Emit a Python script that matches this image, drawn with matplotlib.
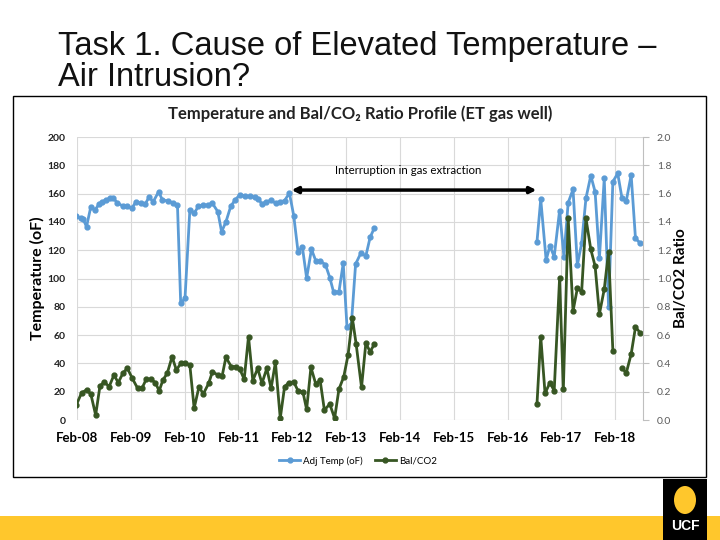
import numpy as np
import matplotlib
matplotlib.use("Agg")
import matplotlib.pyplot as plt
from matplotlib.patches import Rectangle, Ellipse

# decimal-year dates (Feb-08 = 2008.083)
temp_dates_a = [2008.07, 2008.15, 2008.20, 2008.26, 2008.34, 2008.42, 2008.49, 2008.55, 2008.62, 2008.69,
                2008.76, 2008.83, 2008.93, 2009.02, 2009.10, 2009.18, 2009.27, 2009.35, 2009.42, 2009.50,
                2009.60, 2009.67, 2009.77, 2009.86, 2009.95, 2010.01, 2010.09, 2010.18, 2010.26, 2010.34,
                2010.43, 2010.51, 2010.60, 2010.70, 2010.77, 2010.85, 2010.94, 2011.02, 2011.11, 2011.20,
                2011.29, 2011.39, 2011.45, 2011.52, 2011.60, 2011.69, 2011.78, 2011.86, 2011.94, 2012.03,
                2012.11, 2012.19, 2012.27, 2012.35, 2012.44, 2012.52, 2012.60, 2012.70, 2012.78, 2012.85,
                2012.95, 2013.03, 2013.10, 2013.18, 2013.26, 2013.36, 2013.45, 2013.53, 2013.61]
temp_vals_a = [144, 142.5, 141.8, 136.6, 150.7, 148.4, 152.6, 154.3, 155.5, 156.7,
               156.7, 153.6, 151.2, 151.2, 149.6, 154.3, 153.1, 152.6, 157.4, 154.3,
               161.3, 155.5, 154.8, 153.6, 151.9, 82.5, 86, 148.4, 146, 151.2,
               151.9, 151.9, 153.1, 147.2, 133, 140, 151, 155.5, 159.2, 158.3,
               158, 157.6, 156.5, 152.6, 154.3, 155.2, 153.1, 154.3, 155, 160.4,
               144.5, 119, 122.5, 100.3, 120.7, 112.5, 112.5, 109.7, 100.7, 90.5,
               90.5, 110.7, 65.8, 67, 110.2, 118.2, 115.9, 129.1, 135.9]

temp_dates_b = [2016.63, 2016.70, 2016.80, 2016.87, 2016.95, 2017.05, 2017.13, 2017.21, 2017.30, 2017.38,
                2017.46, 2017.54, 2017.63, 2017.71, 2017.79, 2017.88, 2017.96, 2018.04, 2018.13, 2018.21,
                2018.29, 2018.38, 2018.46, 2018.55]
temp_vals_b = [126, 156, 113, 123, 115.4, 148, 115.4, 153.6, 163, 109.5,
               124.9, 156.7, 172.7, 161.3, 114.3, 170.8, 80, 168.4, 174.3, 156.7,
               155, 173.1, 128.4, 124.9]

ratio_dates_a = [2008.07, 2008.17, 2008.26, 2008.34, 2008.43, 2008.51, 2008.59, 2008.68, 2008.77, 2008.85,
                 2008.94, 2009.02, 2009.11, 2009.21, 2009.29, 2009.37, 2009.46, 2009.54, 2009.61, 2009.68,
                 2009.76, 2009.85, 2009.93, 2010.02, 2010.09, 2010.18, 2010.26, 2010.35, 2010.43, 2010.53,
                 2010.60, 2010.70, 2010.78, 2010.85, 2010.95, 2011.04, 2011.11, 2011.19, 2011.27, 2011.35,
                 2011.44, 2011.52, 2011.61, 2011.69, 2011.77, 2011.86, 2011.94, 2012.02, 2012.11, 2012.19,
                 2012.28, 2012.35, 2012.43, 2012.52, 2012.60, 2012.68, 2012.78, 2012.87, 2012.95, 2013.04,
                 2013.12, 2013.20, 2013.27, 2013.37, 2013.45, 2013.53, 2013.61]
ratio_vals_a = [0.106, 0.193, 0.212, 0.184, 0.035, 0.24, 0.27, 0.235, 0.318, 0.264,
                0.334, 0.365, 0.295, 0.224, 0.224, 0.288, 0.288, 0.264, 0.205, 0.283,
                0.33, 0.447, 0.353, 0.405, 0.405, 0.389, 0.083, 0.235, 0.184, 0.259,
                0.341, 0.318, 0.311, 0.443, 0.377, 0.377, 0.358, 0.288, 0.589, 0.278,
                0.365, 0.259, 0.365, 0.224, 0.408, 0.012, 0.235, 0.264, 0.269, 0.207,
                0.20, 0.075, 0.372, 0.254, 0.283, 0.07, 0.113, 0.012, 0.217, 0.306,
                0.46, 0.719, 0.537, 0.231, 0.542, 0.483, 0.537]

ratio_dates_b = [2016.63, 2016.70, 2016.78, 2016.87, 2016.95, 2017.05, 2017.12, 2017.21, 2017.30, 2017.38,
                 2017.46, 2017.54, 2017.63, 2017.71, 2017.79, 2017.88, 2017.96, 2018.04]
ratio_vals_b = [0.113, 0.589, 0.188, 0.264, 0.207, 1.001, 0.217, 1.425, 0.77, 0.93,
                0.907, 1.425, 1.206, 1.088, 0.749, 0.924, 1.19, 0.49]

ratio_dates_c = [2018.21, 2018.29, 2018.38, 2018.46, 2018.55]
ratio_vals_c = [0.365, 0.334, 0.466, 0.655, 0.617]

year_ticks = np.arange(2008, 2019) + 1 / 12
year_labels = ["Feb-%02d" % (y % 100) for y in range(2008, 2019)]

blue = "#5B9BD5"
green = "#375623"
chart_font = ["Lato", "DejaVu Sans"]

fig = plt.figure(figsize=(7.2, 5.4), dpi=100)
fig.patch.set_facecolor("white")

# slide title
fig.text(58 / 720, 1 - 62 / 540, "Task 1. Cause of Elevated Temperature \u2013\nAir Intrusion?",
         family="Liberation Sans", fontsize=23.5, va="center", ha="left", linespacing=1.0, color="#111111")

# chart frame
fig.patches.append(Rectangle((13 / 720, 1 - 477 / 540), 693 / 720, 381 / 540, transform=fig.transFigure,
                             fill=False, edgecolor="black", lw=1.0))

# bottom gold bar and logo block
fig.patches.append(Rectangle((0, 0), 1, 24 / 540, transform=fig.transFigure, facecolor="#FFC72C",
                             edgecolor="none"))
fig.patches.append(Rectangle((663 / 720, 0), 44 / 720, 61 / 540, transform=fig.transFigure,
                             facecolor="black", edgecolor="none", zorder=3))
fig.patches.append(Ellipse((685 / 720, 1 - 500 / 540), 22 / 720, 28 / 540, transform=fig.transFigure,
                           facecolor="#FFC72C", edgecolor="none", zorder=4))
fig.text(685 / 720, 1 - 526 / 540, "UCF", color="white", fontsize=10, fontweight="bold",
         family="Liberation Sans", ha="center", va="center", zorder=5)

ax = fig.add_axes([77 / 720, 120 / 540, 566 / 720, 283 / 540])
ax2 = ax.twinx()

t_dates = temp_dates_a + [np.nan] + temp_dates_b
t_vals = temp_vals_a + [np.nan] + temp_vals_b
r_dates = ratio_dates_a + [np.nan] + ratio_dates_b + [np.nan] + ratio_dates_c
r_vals = ratio_vals_a + [np.nan] + ratio_vals_b + [np.nan] + ratio_vals_c

l1, = ax.plot(t_dates, t_vals, color=blue, lw=2.0, marker="o", markersize=3.5, label="Adj Temp (oF)")
l2, = ax2.plot(r_dates, r_vals, color=green, lw=2.0, marker="o", markersize=3.5, label="Bal/CO2")

ax.set_xlim(2008 + 1 / 12, 2018.6)
ax.set_ylim(0, 200)
ax2.set_ylim(0, 2.0)
ax.set_yticks(np.arange(0, 201, 20))
ax2.set_yticks(np.arange(0, 2.01, 0.2))
ax2.set_yticklabels(["%.1f" % v for v in np.arange(0, 2.01, 0.2)])
ax.set_xticks(year_ticks)
ax.set_xticklabels(year_labels)

ax.grid(True, color="#D9D9D9", lw=0.8)
ax.set_axisbelow(True)
for sp in ax.spines.values():
    sp.set_visible(False)
for name, sp in ax2.spines.items():
    sp.set_visible(name == "right")
ax2.spines["right"].set_color("#BFBFBF")

ax.tick_params(axis="both", length=0, pad=8)
ax.tick_params(axis="y", labelsize=7.5, labelcolor="#222222")
ax.tick_params(axis="x", labelsize=9.5, labelcolor="black", pad=9)
ax2.tick_params(axis="y", length=4, color="#BFBFBF", labelsize=7.5, labelcolor="#595959", pad=6)
for lab in ax.get_xticklabels() + ax.get_yticklabels() + ax2.get_yticklabels():
    lab.set_family(chart_font)
for lab in ax.get_xticklabels() + ax.get_yticklabels():
    lab.set_fontweight("bold")

ax.set_ylabel("Temperature (oF)", family=chart_font, fontsize=11.5, fontweight="bold", labelpad=2)
ax2.set_ylabel("Bal/CO2 Ratio", family=chart_font, fontsize=11, fontweight="bold", labelpad=2)

ax.set_title("Temperature and Bal/CO\u2082 Ratio Profile (ET gas well)", family=chart_font,
             fontsize=12, fontweight="bold", pad=13, color="#222222")

ax.annotate("", xy=(2012.07, 162.5), xytext=(2016.62, 162.5),
            arrowprops=dict(arrowstyle="<|-|>", lw=2.5, color="black", mutation_scale=9,
                            shrinkA=0, shrinkB=0))
ax.text(2014.23, 176, "Interruption in gas extraction", family=chart_font, fontsize=8.3,
        ha="center", va="center", color="black")

fig.legend([l1, l2], ["Adj Temp (oF)", "Bal/CO2"], loc="center", bbox_to_anchor=(358 / 720, 1 - 461 / 540),
           ncol=2, frameon=False, prop={"family": chart_font, "size": 7}, handlelength=2.2,
           columnspacing=1.2, handletextpad=0.3)

fig.savefig("out.png", dpi=100)
